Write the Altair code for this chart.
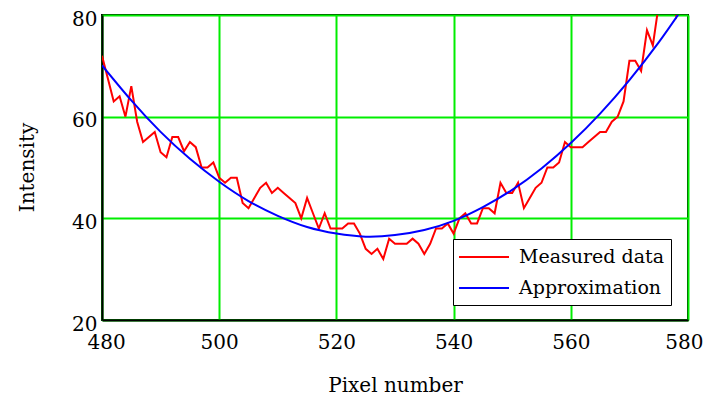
import altair as alt
import pandas as pd

# Measured data: one value per pixel number 480..580
pixel = list(range(480, 581))
measured = [
    72, 67.5, 63, 64, 60, 66, 59, 55, 56, 57,      # 480-489
    53, 52, 56, 56, 53.2, 55, 54, 50, 50, 51,      # 490-499
    48, 47, 48, 48, 43, 42, 44, 46, 47, 45,        # 500-509
    46, 45, 44, 43, 40, 44, 41, 38, 41, 38,        # 510-519
    38, 38, 39, 39, 37, 34, 33, 34, 32, 36,        # 520-529
    35, 35, 35, 36, 35, 33, 35, 38, 38, 39,        # 530-539
    37, 40, 41, 39, 39, 42, 42, 41, 47, 45,        # 540-549
    45, 47, 42, 44, 46, 47, 50, 50, 51, 55,        # 550-559
    54, 54, 54, 55, 56, 57, 57, 59, 60, 63,        # 560-569
    71, 71, 69, 77, 74, 82, 84, 83, 79.8, 85,      # 570-579
    87,                                            # 580
]

# Approximation curve, read every 5 pixels
approx_x = list(range(480, 581, 5))
approx_y = [70.1, 63.2, 57.0, 51.7, 47.2, 43.4, 40.5, 38.3, 37.0, 36.4, 36.7,
            37.7, 39.5, 42.2, 45.6, 49.8, 54.8, 60.6, 67.2, 74.6, 82.9]

series_names = ["Measured data", "Approximation"]
series_colors = ["#FF0000", "#0000FF"]
x_ticks = [480, 500, 520, 540, 560, 580]
y_ticks = [20, 40, 60, 80]

df_m = pd.DataFrame({"x": pixel, "y": measured, "s": series_names[0]})
df_a = pd.DataFrame({"x": approx_x, "y": approx_y, "s": series_names[1]})

FONT = "DejaVu Serif"
FS = 20

xenc = alt.X("x:Q", scale=alt.Scale(domain=[480, 580], nice=False),
             axis=alt.Axis(values=x_ticks, title="Pixel number", format="d",
                           labelFlush=True, labelFlushOffset=15,
                           titleX=293, titleY=65, titleBaseline="middle"))
yenc = alt.Y("y:Q", scale=alt.Scale(domain=[20, 80], nice=False),
             axis=alt.Axis(values=y_ticks, title="Intensity", labelFlush=False,
                           labelOffset=4,
                           titleX=-75, titleY=152, titleBaseline="middle", titleAngle=-90))
cenc = alt.Color("s:N", scale=alt.Scale(domain=series_names, range=series_colors),
                 legend=alt.Legend(title=None, orient="none", legendX=351, legendY=224,
                                   symbolType="M-2.5,0H2.5", symbolSize=400, symbolStrokeWidth=2,
                                   symbolOffset=13,
                                   labelFont=FONT, labelFontSize=19, labelColor="black",
                                   labelOffset=24, strokeColor="black", fillColor="white",
                                   padding=7, rowPadding=10, labelLimit=300))

red = alt.Chart(df_m).mark_line(strokeWidth=2, clip=True).encode(x=xenc, y=yenc, color=cenc)
blue = alt.Chart(df_a).mark_line(strokeWidth=2, clip=True, interpolate="natural").encode(
    x=xenc, y=yenc, color=cenc)

chart = alt.layer(red, blue).properties(
    width=586, height=305,
    autosize=alt.AutoSizeParams(type="none"),
    padding={"left": 94, "top": 7, "right": 15, "bottom": 75},
).configure_view(
    stroke="black", strokeWidth=2
).configure_axis(
    grid=True, gridColor="#00EE00", gridWidth=2, gridOpacity=1,
    domain=True, domainColor="black", domainWidth=2,
    ticks=False, tickSize=0,
    labelFont=FONT, labelFontSize=FS, labelColor="black",
    titleFont=FONT, titleFontSize=FS, titleFontWeight="normal", titleColor="black",
).configure_axisX(labelPadding=12).configure_axisY(labelPadding=5)

chart.save("out.html", embed_options={"renderer": "svg", "actions": False})
